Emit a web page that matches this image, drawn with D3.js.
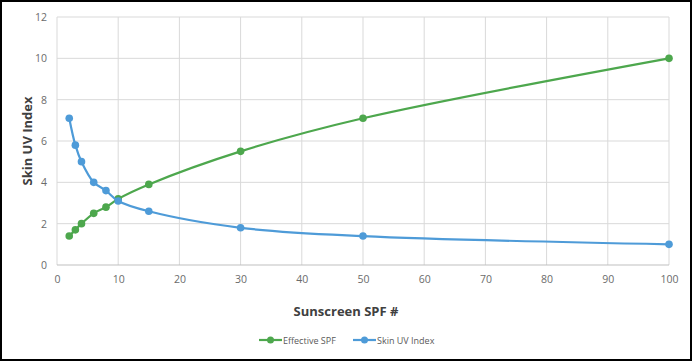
<!DOCTYPE html>
<html>
<head>
<meta charset="utf-8">
<script src="https://cdn.jsdelivr.net/npm/d3@7"></script>
<style>
  body { margin: 0; background: #fff; }
  text { font-family: "Open Sans", "Liberation Sans", sans-serif; }
</style>
</head>
<body>
<svg width="694" height="363"></svg>
<script>
var spf = [2, 3, 4, 6, 8, 10, 15, 30, 50, 100];
var effectiveSpf = [1.4, 1.7, 2.0, 2.5, 2.8, 3.2, 3.9, 5.5, 7.1, 10.0];
var skinUv = [7.1, 5.8, 5.0, 4.0, 3.6, 3.1, 2.6, 1.8, 1.4, 1.0];
var xTicks = [0, 10, 20, 30, 40, 50, 60, 70, 80, 90, 100];
var yTicks = [0, 2, 4, 6, 8, 10, 12];
var seriesNames = ["Effective SPF", "Skin UV Index"];
var colors = ["#4da74d", "#4e9bd8"];

var svg = d3.select("svg");

// frame
svg.append("rect").attr("x", 1).attr("y", 1).attr("width", 690).attr("height", 359)
  .attr("fill", "#fff").attr("stroke", "#000").attr("stroke-width", 2);

var plotL = 57, plotR = 669, plotT = 17, plotB = 265;
var x = d3.scaleLinear().domain([0, 100]).range([plotL, plotR]);
var y = d3.scaleLinear().domain([0, 12]).range([plotB, plotT]);

// grid
svg.append("g").selectAll("line").data(xTicks).enter().append("line")
  .attr("x1", function(d) { return x(d); }).attr("x2", function(d) { return x(d); })
  .attr("y1", plotT).attr("y2", plotB)
  .attr("stroke", "#d9d9d9").attr("stroke-width", 1);
svg.append("g").selectAll("line").data(yTicks).enter().append("line")
  .attr("x1", plotL).attr("x2", plotR)
  .attr("y1", function(d) { return y(d); }).attr("y2", function(d) { return y(d); })
  .attr("stroke", function(d) { return d === 0 ? "#bfbfbf" : "#d9d9d9"; }).attr("stroke-width", 1);

// axes (labels only)
var xAxis = svg.append("g").attr("transform", "translate(0," + plotB + ")")
  .call(d3.axisBottom(x).tickValues(xTicks).tickSize(0).tickPadding(11));
var yAxis = svg.append("g").attr("transform", "translate(" + plotL + ",0)")
  .call(d3.axisLeft(y).tickValues(yTicks).tickSize(0).tickPadding(10));
[xAxis, yAxis].forEach(function(a) {
  a.select(".domain").remove();
  a.selectAll("text").attr("fill", "#6b6b6b").style("font-size", "10.5px");
});

// titles
svg.append("text").attr("x", 346).attr("y", 316).attr("text-anchor", "middle")
  .attr("fill", "#404040").style("font-size", "13px").style("font-weight", "bold")
  .text("Sunscreen SPF #");
svg.append("text").attr("transform", "translate(32,141) rotate(-90)").attr("text-anchor", "middle")
  .attr("fill", "#404040").style("font-size", "13px").style("font-weight", "bold")
  .text("Skin UV Index");

// series
var series = [effectiveSpf, skinUv];
var line = d3.line()
  .x(function(d) { return x(d[0]); })
  .y(function(d) { return y(d[1]); })
  .curve(d3.curveCatmullRom.alpha(0.5));

series.forEach(function(vals, i) {
  var pts = spf.map(function(s, j) { return [s, vals[j]]; });
  var g = svg.append("g");
  g.append("path").attr("d", line(pts)).attr("fill", "none")
    .attr("stroke", colors[i]).attr("stroke-width", 2.2);
  g.selectAll("circle").data(pts).enter().append("circle")
    .attr("cx", function(d) { return x(d[0]); })
    .attr("cy", function(d) { return y(d[1]); })
    .attr("r", 3.8).attr("fill", colors[i]);
});

// legend
var legendX = [259, 353];
seriesNames.forEach(function(name, i) {
  var g = svg.append("g").attr("transform", "translate(" + legendX[i] + ",340)");
  g.append("line").attr("x1", 0).attr("x2", 23).attr("y1", 0).attr("y2", 0)
    .attr("stroke", colors[i]).attr("stroke-width", 2.2);
  g.append("circle").attr("cx", 11.5).attr("cy", 0).attr("r", 3.5).attr("fill", colors[i]);
  g.append("text").attr("x", 24).attr("y", 3.5).attr("fill", "#595959")
    .style("font-size", "9px").text(name);
});
</script>
</body>
</html>
